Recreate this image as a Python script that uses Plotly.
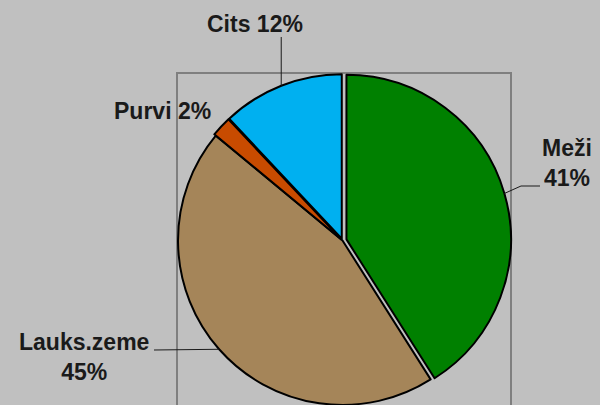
import math
import plotly.graph_objects as go

labels = ["Meži", "Lauks.zeme", "Purvi", "Cits"]
values = [41, 45, 2, 12]
colors = ["#008000", "#A58559", "#C84B00", "#00B0F0"]
pulls = [0.025, 0, 0.012, 0.012]

W, H = 600, 410  # window shows top 405 px
BG = "#C0C0C0"
FONT = "Liberation Sans, Arial, sans-serif"

# pie box (pixels)
cx, cy = 342.5, 240.5
half = 168.6
dom_x = [(cx - half) / W, (cx + half) / W]
dom_y = [(H - (cy + half)) / H, (H - (cy - half)) / H]
r = half / (1 + max(pulls))

fig = go.Figure(go.Pie(
    labels=labels, values=values, sort=False, direction="clockwise", rotation=0,
    marker=dict(colors=colors, line=dict(color="#000000", width=2)),
    pull=pulls, textinfo="none", hoverinfo="label+percent", showlegend=False,
    domain=dict(x=dom_x, y=dom_y),
))

def px2paper(x, y):
    return x / W, 1 - y / H

total = sum(values)
mids = []
acc = 0
for v in values:
    mids.append((acc + v / 2) / total * 2 * math.pi)
    acc += v

def edge(i):
    a = mids[i]
    rr = r * (1 + pulls[i])
    return cx + rr * math.sin(a), cy - rr * math.cos(a)

# label text positions (pixels, centers)
label_pos = {
    "Meži": (567, 163, "<br>"),
    "Lauks.zeme": (84, 357, "<br>"),
    "Purvi": (162, 111, " "),
    "Cits": (255, 24, " "),
}
annotations = []
for i, lab in enumerate(labels):
    x, y, sep = label_pos[lab]
    pct = round(values[i] / total * 100)
    px, py = px2paper(x, y)
    annotations.append(dict(
        x=px, y=py, xref="paper", yref="paper", showarrow=False,
        text=f"<b>{lab}{sep}{pct}%</b>", align="center",
        xanchor="center", yanchor="middle",
        font=dict(family=FONT, size=23, color="#1A1A1A"),
    ))

shapes = [dict(
    type="rect", xref="paper", yref="paper",
    x0=177 / W, x1=511 / W, y0=-0.1, y1=1 - 73 / H,
    line=dict(color="#7F7F7F", width=2), fillcolor="rgba(0,0,0,0)", layer="below",
)]

def seg(points):
    p = " L ".join(f"{px2paper(x, y)[0]:.5f},{px2paper(x, y)[1]:.5f}" for x, y in points)
    return "M " + p

ex, ey = edge(3)
shapes.append(dict(type="path", xref="paper", yref="paper",
                   path=seg([(ex, ey), (ex, 37)]), line=dict(color="#1A1A1A", width=1)))
ex, ey = edge(1)
shapes.append(dict(type="path", xref="paper", yref="paper",
                   path=seg([(ex, ey), (154, 350)]), line=dict(color="#1A1A1A", width=1)))
ex, ey = edge(0)
shapes.append(dict(type="path", xref="paper", yref="paper",
                   path=seg([(ex, ey), (521, 186), (540, 186)]), line=dict(color="#1A1A1A", width=1)))

fig.update_layout(
    width=W, height=H, margin=dict(l=0, r=0, t=0, b=0),
    paper_bgcolor=BG, plot_bgcolor=BG,
    annotations=annotations, shapes=shapes,
)
fig.write_html(
    "out.html",
    config={"displayModeBar": False},
    post_script="document.body.style.margin='0';document.body.style.overflow='hidden';",
)
